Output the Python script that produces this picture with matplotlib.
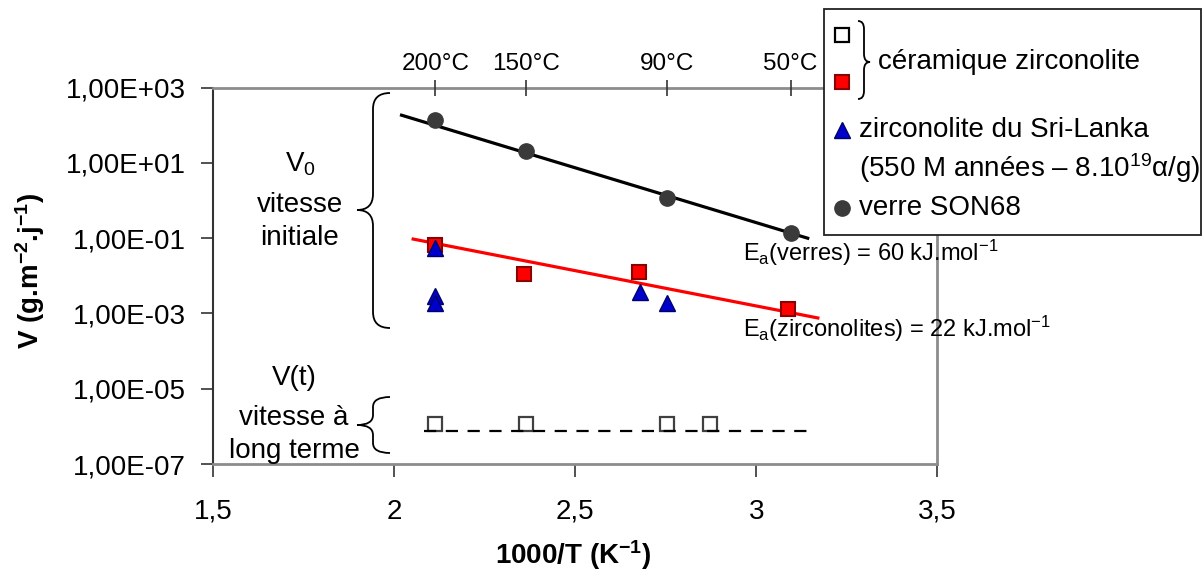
import matplotlib
matplotlib.use("Agg")
import matplotlib.pyplot as plt
from matplotlib.path import Path
from matplotlib.patches import PathPatch, Rectangle
from matplotlib.lines import Line2D

plt.rcParams['font.family'] = ['Liberation Sans', 'DejaVu Sans']
plt.rcParams['mathtext.fontset'] = 'custom'
plt.rcParams['mathtext.rm'] = 'Liberation Sans'
plt.rcParams['mathtext.it'] = 'Liberation Sans:italic'
plt.rcParams['mathtext.bf'] = 'Liberation Sans:bold'

# verre SON68 (vitesse initiale)
glass_x = [2.113, 2.363, 2.754, 3.095]
glass_v = [138, 21, 1.2, 0.137]
# ceramique zirconolite (vitesse initiale)
ceram_x = [2.113, 2.357, 2.677, 3.088]
ceram_v = [0.066, 0.011, 0.0123, 0.00135]
# zirconolite du Sri-Lanka
lanka_x = [2.113, 2.113, 2.113, 2.680, 2.752]
lanka_v = [0.054, 0.0029, 0.0019, 0.0037, 0.0019]
# ceramique zirconolite (vitesse a long terme)
lt_x = [2.113, 2.363, 2.754, 2.872]
lt_v = [1.15e-6, 1.15e-6, 1.15e-6, 1.15e-6]
# droites d'Arrhenius
glass_fit_x = [2.02, 3.142]
glass_fit_v = [186, 0.1]
ceram_fit_x = [2.052, 3.170]
ceram_fit_v = [0.095, 0.00076]
lt_fit_x = [2.083, 3.142]
lt_fit_v = [7.6e-7, 7.6e-7]

temps_c = [200, 150, 90, 50]
x_ticks = [1.5, 2, 2.5, 3, 3.5]
x_labels = ['1,5', '2', '2,5', '3', '3,5']
y_ticks = [1e-7, 1e-5, 1e-3, 1e-1, 1e1, 1e3]
y_labels = ['1,00E-07', '1,00E-05', '1,00E-03', '1,00E-01', '1,00E+01', '1,00E+03']

W, H = 1204, 580
fig = plt.figure(figsize=(W / 100, H / 100), dpi=100)


def fx(px):
    return px / W


def fy(py):
    return 1 - py / H


ax = fig.add_axes([fx(213.3), fy(464), (937.3 - 213.3) / W, (464 - 87.7) / H])
ax.set_yscale('log')
ax.set_xlim(1.5, 3.5)
ax.set_ylim(1e-7, 1e3)
ax.set_xticks(x_ticks)
ax.set_xticklabels(x_labels)
ax.set_yticks(y_ticks)
ax.set_yticklabels(y_labels)
ax.minorticks_off()
ax.tick_params(axis='y', direction='out', length=9, width=1.2, pad=11, labelsize=20, color='#333333')
ax.tick_params(axis='x', direction='out', length=9, width=1.2, pad=16, labelsize=20, color='#333333')
for s in ['top', 'right', 'bottom']:
    ax.spines[s].set_color('#8c8c8c')
    ax.spines[s].set_linewidth(2)
ax.spines['left'].set_color('#333333')
ax.spines['left'].set_linewidth(1.5)

ax.plot(glass_fit_x, glass_fit_v, color='black', lw=2.3, zorder=2)
ax.plot(ceram_fit_x, ceram_fit_v, color='#ff0000', lw=2.3, zorder=2)
ax.plot(lt_x, lt_v, ls='none', marker='s', ms=9.5, mfc='white', mec='#404040', mew=1.6, zorder=3)
ax.plot(lt_fit_x, lt_fit_v, color='black', lw=1.6, ls=(0, (5.5, 4.3)), zorder=4)
ax.plot(glass_x, glass_v, ls='none', marker='o', ms=11, mfc='#3a3a3a', mec='#3a3a3a', zorder=3)
ax.plot(ceram_x, ceram_v, ls='none', marker='s', ms=10, mfc='#ff0000', mec='#8b0000', mew=1.5, zorder=3)
ax.plot(lanka_x, lanka_v, ls='none', marker='^', ms=11.5, mfc='#0000cc', mec='#000066', mew=1, zorder=4)

ax.set_xlabel('1000/T (K$\\mathbf{^{-1}}$)', fontsize=20, fontweight='bold', va='center')
ax.xaxis.set_label_coords((573 - 213.3) / 724, (464 - 555) / 376.3)
ax.set_ylabel('V (g.m$\\mathbf{^{-2}}$.j$\\mathbf{^{-1}}$)', fontsize=20, fontweight='bold', va='center')
ax.yaxis.set_label_coords((30 - 213.3) / 724, (464 - 271) / 376.3)

# echelle des temperatures en haut
ax2 = ax.twiny()
ax2.set_xlim(1.5, 3.5)
ax2.set_xticks([1000 / (t + 273.15) for t in temps_c])
ax2.set_xticklabels([f'{t}°C' for t in temps_c])
ax2.tick_params(axis='x', direction='inout', length=11, width=1.2, pad=4, labelsize=17.5, color='#333333')
for s in ax2.spines.values():
    s.set_visible(False)

# annotations
note = dict(fontsize=20, ha='center', va='baseline')
fig.text(fx(300), fy(172), 'V$_\\mathrm{0}$', **note)
fig.text(fx(300), fy(211.7), 'vitesse', **note)
fig.text(fx(300), fy(245), 'initiale', **note)
fig.text(fx(294), fy(385), 'V(t)', **note)
fig.text(fx(294), fy(425), 'vitesse à', **note)
fig.text(fx(294), fy(458), 'long terme', **note)
fig.text(fx(743), fy(261), 'E$_\\mathrm{a}$(verres) = 60 kJ.mol$^\\mathrm{-1}$', fontsize=17, ha='left', va='baseline')
fig.text(fx(743), fy(337), 'E$_\\mathrm{a}$(zirconolites) = 22 kJ.mol$^\\mathrm{-1}$', fontsize=17, ha='left', va='baseline')


def brace(x_end, x_mid, x_tip, y_top, y_c, y_bot, r):
    pts = [(x_end, y_top), (x_mid, y_top), (x_mid, y_top + r),
           (x_mid, y_c - r), (x_mid, y_c), (x_tip, y_c),
           (x_mid, y_c), (x_mid, y_c + r),
           (x_mid, y_bot - r), (x_mid, y_bot), (x_end, y_bot)]
    codes = [Path.MOVETO, Path.CURVE3, Path.CURVE3, Path.LINETO,
             Path.CURVE3, Path.CURVE3, Path.CURVE3, Path.CURVE3,
             Path.LINETO, Path.CURVE3, Path.CURVE3]
    path = Path([(fx(a), fy(b)) for a, b in pts], codes)
    fig.add_artist(PathPatch(path, fill=False, lw=1.3, ec='black', transform=fig.transFigure))


brace(390, 373, 357, 93, 210, 328, 16)
brace(390, 373, 357, 397, 425, 453, 10)

# legende
fig.add_artist(Rectangle((fx(824), fy(235)), (1201 - 824) / W, (235 - 9) / H,
                         transform=fig.transFigure, fc='white', ec='#222222', lw=1.3))
mk = dict(transform=fig.transFigure, ls='none')
fig.add_artist(Line2D([fx(842)], [fy(35)], marker='s', ms=9.5, mfc='white', mec='black', mew=1.6, **mk))
fig.add_artist(Line2D([fx(842)], [fy(82)], marker='s', ms=10, mfc='#ff0000', mec='#8b0000', mew=1.5, **mk))
fig.add_artist(Line2D([fx(842)], [fy(130)], marker='^', ms=11.5, mfc='#0000cc', mec='#000066', mew=1, **mk))
fig.add_artist(Line2D([fx(842)], [fy(208)], marker='o', ms=11, mfc='#3a3a3a', mec='#3a3a3a', **mk))
brace(858, 864, 870, 21, 62, 99, 8)
lg = dict(fontsize=20, ha='left', va='center')
fig.text(fx(878), fy(62), 'céramique zirconolite', **lg)
fig.text(fx(859), fy(130), 'zirconolite du Sri-Lanka', **lg)
fig.text(fx(859), fy(168), '(550 M années – 8.10$^\\mathrm{19}$α/g)', **lg)
fig.text(fx(859), fy(208), 'verre SON68', **lg)

fig.savefig('out.png', dpi=100)
